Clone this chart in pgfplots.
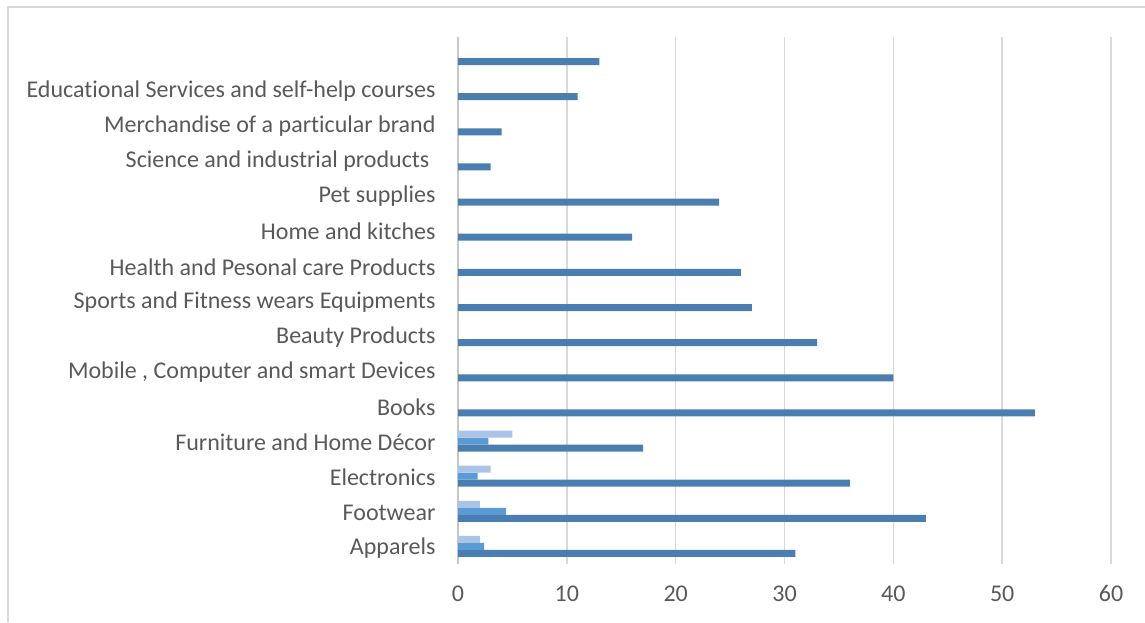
\documentclass[border=0pt]{standalone}
\usepackage{pgfplots}
\pgfplotsset{compat=1.18}
\usepackage{fontspec}
\setmainfont{Carlito}[Ligatures=NoCommon]
\definecolor{darkb}{HTML}{4A7EB0}
\definecolor{midb}{HTML}{5B9BD5}
\definecolor{lightb}{HTML}{A9C4E6}
\definecolor{txt}{HTML}{595959}
\definecolor{gridc}{HTML}{D9D9D9}
\begin{document}
\begin{tikzpicture}[x=1pt,y=1pt]
\useasboundingbox (0,0) rectangle (1145,622);
\draw[color=gridc, line width=1.4pt] (8,0) -- (8,615) -- (1145,615);
\begin{axis}[
  at={(458pt,58pt)}, anchor=south west,
  scale only axis, width=653pt, height=527pt,
  xmin=0, xmax=60, ymin=-0.5, ymax=14.5,
  bar width=7pt,
  xtick={0,10,...,60},
  ytick={0,...,14},
  yticklabels={Apparels,Footwear,Electronics,Furniture and Home Décor,Books,{Mobile , Computer and smart Devices},Beauty Products,Sports and Fitness wears Equipments,Health and Pesonal care Products,Home and kitches,Pet supplies,Science and industrial products\hspace*{0.25em},Merchandise of a particular brand,Educational Services and self-help courses,{}},
  xmajorgrids,
  grid style={draw=gridc, line width=1.4pt},
  major tick length=0pt,
  axis line style={draw=none},
  tick label style={font=\fontsize{24}{28}\selectfont, text=txt},
  /pgf/number format/assume math mode=true,
  xticklabel style={yshift=-18pt},
  yticklabel style={anchor=east, xshift=-19pt, yshift=-1.5pt},
  extra x ticks={0}, extra x tick labels={},
  extra x tick style={grid style={draw=black!22, line width=1.8pt}},
]
\addplot[xbar, fill=darkb, draw=none, bar shift=-7pt] coordinates {
 (31,0) (43,1) (36,2) (17,3) (53,4) (40,5) (33,6) (27,7) (26,8) (16,9) (24,10) (3,11) (4,12) (11,13) (13,14)};
\addplot[xbar, fill=midb, draw=none, bar shift=0pt] coordinates {
 (2.4,0) (4.4,1) (1.8,2) (2.8,3)};
\addplot[xbar, fill=lightb, draw=none, bar shift=7pt] coordinates {
 (2,0) (2,1) (3,2) (5,3)};
\end{axis}
\end{tikzpicture}
\end{document}
